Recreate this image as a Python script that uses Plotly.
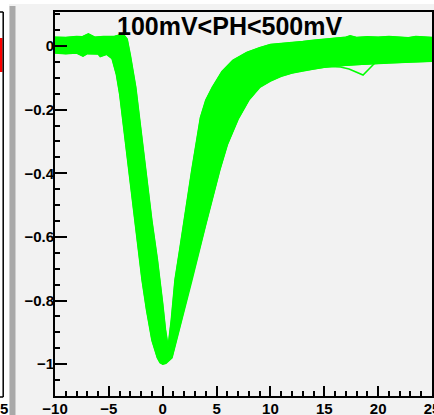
import plotly.graph_objects as go

# ---------------- data ----------------
# upper envelope of the bundle of normalised waveforms (time in ns, amplitude normalised)
t_upper = [-10, -9, -8, -7.5, -6.9, -6.3, -5.5, -5, -4.5, -4.1, -3.6, -3.3,
           -3.0, -2.5, -2.0, -1.5, -1.0, -0.5, -0.25, 0.0, 0.25, 0.5, 0.8,
           1.14, 1.6, 2.0, 2.7, 3.5, 4.0, 4.6, 5.5, 6.5, 7.8, 9, 10, 11, 12,
           13, 14, 15, 16, 17, 17.4, 18, 19, 20, 21, 22, 22.8, 23.5, 24.3, 25]
v_upper = [0.028, 0.027, 0.030, 0.029, 0.038, 0.028, 0.030, 0.029, 0.030, 0.034,
           0.035, 0.022,
           -0.030, -0.130, -0.270, -0.410, -0.550, -0.670, -0.735, -0.810, -0.890,
           -0.945, -0.860,
           -0.735, -0.635, -0.545, -0.390, -0.225, -0.170, -0.130, -0.080, -0.045,
           -0.020, -0.005, 0.005, 0.008, 0.010,
           0.014, 0.018, 0.022, 0.026, 0.028, 0.032, 0.027, 0.029, 0.028, 0.030,
           0.029, 0.026, 0.030, 0.028, 0.027]

# lower envelope of the bundle
t_lower = [-10, -9, -8, -7.4, -7, -6, -5.8, -5.2, -4.7, -4.3, -4.0, -3.5, -3.0,
           -2.5, -1.92, -1.5, -1.0, -0.5, -0.25, 0.0, 0.3, 0.86, 1.79, 2.72, 4.0,
           5.3, 6.0, 7.0, 8.0, 9.0, 10, 11, 12, 13, 14, 15, 16, 17, 18, 19, 20,
           21, 22, 23, 24, 25]
v_lower = [-0.022, -0.024, -0.022, -0.032, -0.024, -0.025, -0.033, -0.026, -0.040,
           -0.090, -0.150, -0.290, -0.430,
           -0.575, -0.735, -0.830, -0.925, -0.980, -0.995, -1.000, -0.997, -0.980,
           -0.860, -0.735, -0.560,
           -0.390, -0.310, -0.230, -0.170, -0.130, -0.110, -0.095, -0.085, -0.078,
           -0.072, -0.067, -0.063, -0.060, -0.058, -0.057, -0.055,
           -0.053, -0.052, -0.050, -0.050, -0.048]

# one waveform that dips below the bundle on the tail
t_outlier = [13, 15, 16.5, 17.3, 18.6, 19.7, 20.5, 21.5]
v_outlier = [-0.060, -0.064, -0.066, -0.072, -0.091, -0.053, -0.050, -0.045]

x_tick_vals = [-10, -5, 0, 5, 10, 15, 20, 25]
x_tick_text = ["−10", "−5", "0", "5", "10", "15", "20", "25"]
y_tick_vals = [-1, -0.8, -0.6, -0.4, -0.2, 0]
y_tick_text = ["−1", "−0.8", "−0.6", "−0.4", "−0.2", "0"]
title_text = "100mV&lt;PH&lt;500mV"
neighbour_label = "5"

# ---------------- figure ----------------
GREEN = "#00ff00"
W, H = 434, 415
L, R, T, B = 55, 2, 12, 19
pw, ph = W - L - R, H - T - B


def px(x):
    return (x - L) / pw


def py(y):
    return (H - B - y) / ph


def bold(s):
    return "<b>" + s + "</b>"


fig = go.Figure()

# filled band between the envelopes
fig.add_trace(go.Scatter(
    x=t_upper + t_lower[::-1],
    y=v_upper + v_lower[::-1],
    fill="toself", fillcolor=GREEN, mode="lines",
    line=dict(color=GREEN, width=1), hoverinfo="skip", showlegend=False))
fig.add_trace(go.Scatter(x=t_upper, y=v_upper, mode="lines",
                         line=dict(color=GREEN, width=1.5), showlegend=False))
fig.add_trace(go.Scatter(x=t_lower, y=v_lower, mode="lines",
                         line=dict(color=GREEN, width=1.5), showlegend=False))
fig.add_trace(go.Scatter(x=t_outlier, y=v_outlier, mode="lines",
                         line=dict(color=GREEN, width=1.5), showlegend=False))

tickfont = dict(family="Liberation Sans", size=15, color="black")

fig.update_xaxes(range=[-10, 25], tickvals=x_tick_vals,
                 ticktext=[bold(s) for s in x_tick_text],
                 ticks="inside", ticklen=10, automargin=False,
                 ticklabeloverflow="allow",
                 tickwidth=1.5, tickcolor="black", showgrid=False, zeroline=False,
                 showline=True, linecolor="black", linewidth=2, mirror=True,
                 tickfont=tickfont, ticklabelstandoff=-2,
                 minor=dict(dtick=1, tick0=0, ticks="inside", ticklen=5,
                            tickwidth=1.5, tickcolor="black", showgrid=False))
fig.update_yaxes(range=[-1.1, 0.107], tickvals=y_tick_vals,
                 ticktext=[bold(s) for s in y_tick_text],
                 ticks="inside", ticklen=12, automargin=False,
                 ticklabeloverflow="allow",
                 tickwidth=1.5, tickcolor="black", showgrid=False, zeroline=False,
                 showline=True, linecolor="black", linewidth=2, mirror=True,
                 tickfont=tickfont, ticklabelstandoff=-4,
                 minor=dict(dtick=0.05, tick0=0, ticks="inside", ticklen=5,
                            tickwidth=1.5, tickcolor="black", showgrid=False))

shapes = [
    # white strip at the top and left of the canvas
    dict(type="rect", xref="paper", yref="paper", x0=px(0), x1=px(W), y0=py(0), y1=py(4),
         fillcolor="white", line=dict(width=0), layer="above"),
    dict(type="rect", xref="paper", yref="paper", x0=px(0), x1=px(9), y0=py(0), y1=py(H),
         fillcolor="white", line=dict(width=0), layer="above"),
    # neighbouring pad edge
    dict(type="rect", xref="paper", yref="paper", x0=px(0), x1=px(2.5), y0=py(38), y1=py(72),
         fillcolor="#ff0000", line=dict(width=0), layer="above"),
    dict(type="line", xref="paper", yref="paper", x0=px(3.2), x1=px(3.2), y0=py(12), y1=py(397),
         line=dict(color="black", width=1.5), layer="above"),
    dict(type="line", xref="paper", yref="paper", x0=px(0), x1=px(3.2), y0=py(12), y1=py(12),
         line=dict(color="black", width=1.5), layer="above"),
    dict(type="line", xref="paper", yref="paper", x0=px(0), x1=px(3.2), y0=py(397), y1=py(397),
         line=dict(color="black", width=1.5), layer="above"),
    dict(type="rect", xref="paper", yref="paper", x0=px(9.5), x1=px(15.5), y0=py(6), y1=py(H),
         fillcolor="#a9a9a9", line=dict(width=0), layer="above"),
]

fig.update_layout(
    width=W, height=H, autosize=False,
    margin=dict(l=L, r=R, t=T, b=B, pad=0, autoexpand=False),
    paper_bgcolor="#f2f2f2", plot_bgcolor="#f2f2f2",
    showlegend=False, shapes=shapes,
    annotations=[
        dict(text=bold(title_text), xref="paper", yref="paper", x=px(229), y=py(26.5),
             xanchor="center", yanchor="middle", showarrow=False,
             font=dict(family="Liberation Sans", size=25, color="black")),
        dict(text=bold(neighbour_label), xref="paper", yref="paper", x=px(9.5), y=py(408),
             xanchor="right", yanchor="middle", showarrow=False,
             font=dict(family="Liberation Sans", size=15, color="black")),
    ],
)

fig.write_html(
    "out.html",
    config={"displayModeBar": False},
    post_script="document.body.style.margin='0';document.body.style.overflow='hidden';",
)
